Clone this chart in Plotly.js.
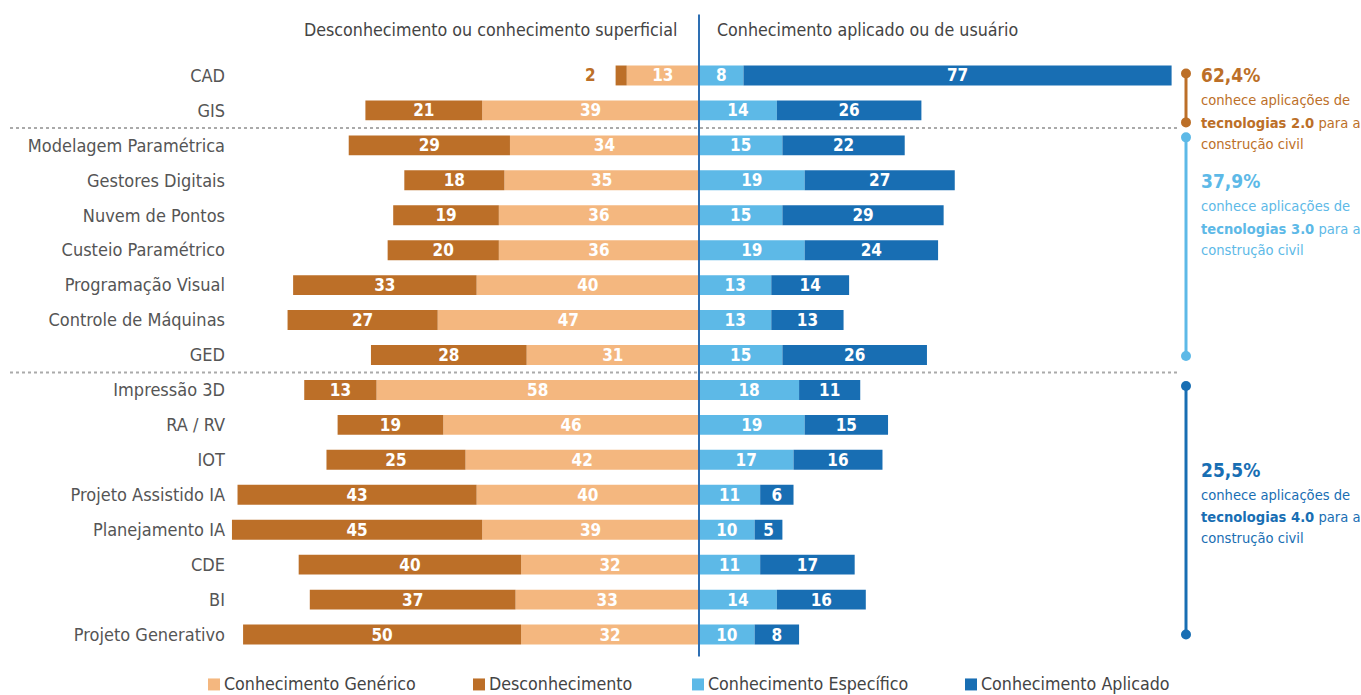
<!DOCTYPE html>
<html><head><meta charset="utf-8">
<script src="https://cdn.plot.ly/plotly-3.0.1.min.js"></script>
<style>html,body{margin:0;padding:0;background:#fff;}#chart{width:1361px;height:695px;}</style>
</head><body><div id="chart"></div>
<script>
const categories = ["CAD","GIS","Modelagem Paramétrica","Gestores Digitais","Nuvem de Pontos","Custeio Paramétrico","Programação Visual","Controle de Máquinas","GED","Impressão 3D","RA / RV","IOT","Projeto Assistido IA","Planejamento IA","CDE","BI","Projeto Generativo"];
const desconhecimento = [2,21,29,18,19,20,33,27,28,13,19,25,43,45,40,37,50];
const generico = [13,39,34,35,36,36,40,47,31,58,46,42,40,39,32,33,32];
const especifico = [8,14,15,19,15,19,13,13,15,18,19,17,11,10,11,14,10];
const aplicado = [77,26,22,27,29,24,14,13,26,11,15,16,6,5,17,16,8];
const seriesNames = ["Conhecimento Genérico","Desconhecimento","Conhecimento Específico","Conhecimento Aplicado"];
const colors = ["#F4B77F","#BC6F28","#5DB9E7","#186EB3"];
const groupPct = ["62,4%","37,9%","25,5%"];
const groupLabels = ["tecnologias 2.0","tecnologias 3.0","tecnologias 4.0"];
const headerLeft = "Desconhecimento ou conhecimento superficial";
const headerRight = "Conhecimento aplicado ou de usuário";

const FONT = "'Liberation Sans Narrow','DejaVu Sans Condensed','Roboto',sans-serif";
const W = 1361, H = 695;
const PL = 230, PR = 1175, PT = 57.5, PB = 652.5;
const px = v => (v - PL) / (PR - PL);
const py = v => (PB - v) / (PB - PT);
const scale = 5.56;

const neg = a => a.map(v => -v);
const smallIdx = desconhecimento.map((v,i)=> v < 5 ? i : -1).filter(i=>i>=0);

function barTrace(name, vals, color, textVals, textColor){
  return {
    type:'bar', orientation:'h', name, y: categories, x: vals,
    marker:{color, line:{width:0}},
    text: textVals.map(String), textposition:'inside', insidetextanchor:'middle',
    constraintext:'none', textangle:0,
    textfont:{family:FONT, size:17, color:textColor, weight:'bold'},
    hoverinfo:'skip', showlegend:false
  };
}
const descText = desconhecimento.map((v,i)=> smallIdx.includes(i) ? '' : v);
const traces = [
  barTrace(seriesNames[0], neg(generico), colors[0], generico, '#fff'),
  barTrace(seriesNames[1], neg(desconhecimento), colors[1], descText, '#fff'),
  barTrace(seriesNames[2], especifico, colors[2], especifico, '#fff'),
  barTrace(seriesNames[3], aplicado, colors[3], aplicado, '#fff')
];

const annotations = [];
const shapes = [];
smallIdx.forEach(i=>{
  annotations.push({x: -(generico[i]+desconhecimento[i]), y: categories[i], xref:'x', yref:'y',
    text:'<b>'+desconhecimento[i]+'</b>', showarrow:false, xanchor:'right', xshift:-18,
    font:{family:FONT,size:17,color:colors[1]}});
});
annotations.push({x:px(679), y:py(29), xref:'paper', yref:'paper', text:headerLeft, showarrow:false,
  xanchor:'right', yanchor:'middle', font:{family:FONT,size:17.7,color:'#444'}});
annotations.push({x:px(715), y:py(29), xref:'paper', yref:'paper', text:headerRight, showarrow:false,
  xanchor:'left', yanchor:'middle', font:{family:FONT,size:17.7,color:'#444'}});
shapes.push({type:'line', xref:'x', yref:'paper', x0:0, x1:0, y0:py(14), y1:py(657), line:{color:'#2E6FB3', width:2}});
[1.5, 8.5].forEach(yv=>{
  shapes.push({type:'line', xref:'paper', yref:'y', x0:px(10), x1:px(1180), y0:yv, y1:yv,
    line:{color:'#aaaaaa', width:2, dash:'dot'}});
});
const brackets = [
  {c:colors[1], y0:73, y1:122, ty:75},
  {c:colors[2], y0:137, y1:356, ty:181},
  {c:colors[3], y0:386, y1:635, ty:470}
];
brackets.forEach((b,k)=>{
  const bx = px(1186);
  shapes.push({type:'line', xref:'paper', yref:'paper', x0:bx, x1:bx, y0:py(b.y0), y1:py(b.y1), line:{color:b.c, width:3}});
  [b.y0,b.y1].forEach(yy=>{
    shapes.push({type:'circle', xref:'paper', yref:'paper', x0:px(1181), x1:px(1191), y0:py(yy-5), y1:py(yy+5),
      fillcolor:b.c, line:{color:b.c, width:0}});
  });
  annotations.push({x:px(1199), y:py(b.ty), xref:'paper', yref:'paper', text:'<b>'+groupPct[k]+'</b>', showarrow:false,
    xanchor:'left', yanchor:'middle', font:{family:FONT,size:19,color:b.c}});
  const lines = ['conhece aplicações de', '<b>'+groupLabels[k]+'</b> para a', 'construção civil'];
  const offs = [24.5, 47, 68];
  lines.forEach((t,j)=>{
    annotations.push({x:px(1199), y:py(b.ty+offs[j]), xref:'paper', yref:'paper', text:t, showarrow:false,
      xanchor:'left', yanchor:'middle', font:{family:FONT,size:14.6,color:b.c}});
  });
});
const legX = [208, 473, 692, 965];
seriesNames.forEach((n,k)=>{
  shapes.push({type:'rect', xref:'paper', yref:'paper', x0:px(legX[k]), x1:px(legX[k]+12), y0:py(679), y1:py(691),
    fillcolor:colors[k], line:{width:0}});
  annotations.push({x:px(legX[k]+14), y:py(685), xref:'paper', yref:'paper', text:n, showarrow:false,
    xanchor:'left', yanchor:'middle', font:{family:FONT,size:17.7,color:'#444'}});
});

const layout = {
  width:W, height:H, paper_bgcolor:'#fff', plot_bgcolor:'rgba(0,0,0,0)',
  margin:{l:PL, r:W-PR, t:PT, b:H-PB, pad:0},
  barmode:'relative', bargap:0.43, showlegend:false,
  xaxis:{range:[-(699-PL)/scale, (PR-699)/scale], showgrid:false, zeroline:false, showticklabels:false, fixedrange:true},
  yaxis:{type:'category', autorange:'reversed', showgrid:false, zeroline:false, ticks:'', ticklabelstandoff:4,
    tickfont:{family:FONT, size:18, color:'#555'}},
  shapes, annotations,
  font:{family:FONT}
};
Plotly.newPlot('chart', traces, layout, {displayModeBar:false, staticPlot:true});
</script></body></html>
